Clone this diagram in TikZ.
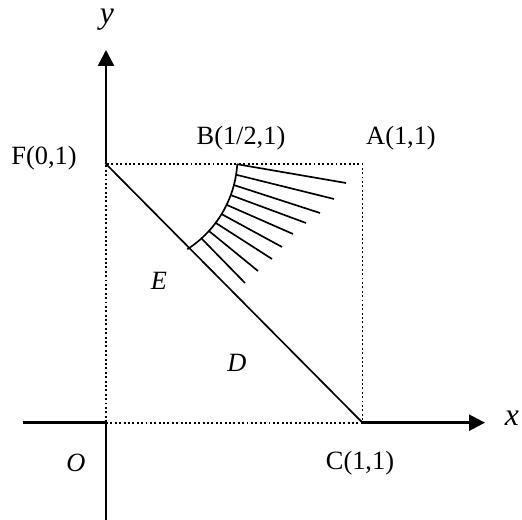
\documentclass[tikz,border=0pt]{standalone}
\usepackage{fontspec}
\setmainfont{Liberation Serif}
\usetikzlibrary{arrows.meta,calc}
\begin{document}
\begin{tikzpicture}[x=0.02cm,y=0.02cm,
  axis/.style={line width=1.4pt},
  dotline/.style={line width=1pt,dash pattern=on 1.1pt off 1.4pt},
  thin line/.style={line width=0.95pt},
  lbl/.style={font=\fontsize{15}{17}\selectfont,inner sep=0pt},
  axlbl/.style={font=\fontsize{18}{20}\selectfont\itshape,inner sep=0pt},
  tip/.style={-{Triangle[length=0.32cm,width=0.32cm]}}]
\useasboundingbox (0,0) rectangle (522,520);
% key points
\coordinate (O) at (106,97.3);
\coordinate (F) at (106,356);
\coordinate (A) at (362.5,356);
\coordinate (C) at (362.5,97.3);
\coordinate (B) at (237.3,356);
\coordinate (xl) at (23,97.3);
\coordinate (xr) at (485,97.3);
\coordinate (yb) at (106,0);
\coordinate (yt) at (106,470);
\coordinate (cen) at (128.3,362.6);
% axes (solid outside the square, dotted inside)
\draw[axis] (xl) -- (O);
\draw[axis,tip] (C) -- (xr);
\draw[axis] (yb) -- (O);
\draw[axis,tip] (F) -- (yt);
\draw[dotline] (O) -- (C) -- (A) -- (F) -- (O);
% diagonal
\draw[thin line] (F) -- (C);
% arc
\draw[thin line] ($(cen)+(-3.6:2.184cm)$) arc[start angle=-3.6,end angle=-57.3,radius=2.184cm];
% hatches
\foreach \i/\ex/\ey in {0/346/337,1/334/321,2/320/307,3/306/297,4/293/286,5/282/273,6/272/261,7/258/249,8/245/237}{
  \coordinate (h\i) at ($(cen)+({-3.6-5.54*\i}:2.184cm)$);
  \coordinate (e\i) at (\ex,\ey);
  \draw[thin line] (h\i) -- (e\i);
}
% labels
\node[axlbl] (ly) at (107,500) {y};
\node[axlbl] (lx) at (512,102) {x};
\node[lbl] (lF) at (44,362) {F(0,1)};
\node[lbl] (lB) at (241,382) {B(1/2,1)};
\node[lbl] (lA) at (401,382) {A(1,1)};
\node[lbl] (lE) at (159,239) {\textit{E}};
\node[lbl] (lD) at (237,157) {\textit{D}};
\node[lbl] (lO) at (76,57) {\textit{O}};
\node[lbl] (lC) at (360,57) {C(1,1)};
\end{tikzpicture}
\end{document}
